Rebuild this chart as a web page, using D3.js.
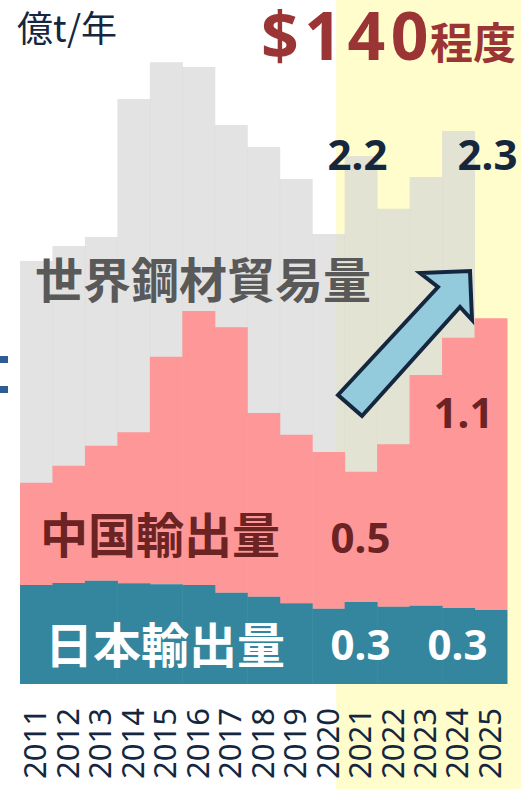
<!DOCTYPE html>
<html>
<head>
<meta charset="utf-8">
<script src="https://cdn.jsdelivr.net/npm/d3@7"></script>
<style>
html,body{margin:0;padding:0;background:#fff;}
svg{display:block;}
</style>
</head>
<body>
<svg id="chart" width="521" height="789"></svg>
<script>
// ---- data (億t/年) ----
const years = ["2011","2012","2013","2014","2015","2016","2017","2018","2019","2020","2021","2022","2023","2024","2025"];
const worldTrade = [1.692,1.752,1.788,2.340,2.487,2.468,2.236,2.148,2.020,1.800,2.112,1.901,2.028,2.212,null];
const chinaExport = [0.409,0.469,0.540,0.604,0.910,1.096,1.062,0.735,0.674,0.627,0.521,0.650,0.923,1.081,1.167];
const japanExport = [0.396,0.404,0.413,0.403,0.399,0.396,0.365,0.349,0.323,0.301,0.328,0.309,0.313,0.304,0.296];
const forecastFrom = "2021";
const unitLabel = "億t/年";
const priceMain = "$140";
const priceSuffix = "程度";
const seriesNames = {world:"世界鋼材貿易量", china:"中国輸出量", japan:"日本輸出量"};
const valueLabels = [
  {series:"world", year:"2021", text:"2.2"},
  {series:"world", year:"2024", text:"2.3"},
  {series:"china", year:"2021", text:"0.5"},
  {series:"china", year:"2024", text:"1.1"},
  {series:"japan", year:"2021", text:"0.3"},
  {series:"japan", year:"2024", text:"0.3"}
];

const svg = d3.select("#chart");
const W = 521, H = 789;
const x = d3.scaleBand().domain(years).range([20, 507]).padding(0);
const y = d3.scaleLinear().domain([0, 2.6]).range([684, 34]);

const navy = "#14273f";
const JP = "'Noto Sans CJK JP','Noto Sans',sans-serif";
const NUM = "'Noto Sans','Open Sans',sans-serif";

// forecast background (starts partway through the 2020 bar)
const fx = x(forecastFrom) - x.bandwidth() * 0.26;
svg.append("rect").attr("x", fx).attr("y", 0).attr("width", W - fx).attr("height", H).attr("fill", "#fffdcc");

const rows = years.map((yr, i) => ({year: yr, world: worldTrade[i], china: chinaExport[i], japan: japanExport[i]}));

// world trade (semi-transparent gray)
svg.append("g").selectAll("rect").data(rows.filter(d => d.world != null)).join("rect")
  .attr("x", d => x(d.year)).attr("width", x.bandwidth() + 0.5)
  .attr("y", d => y(d.world)).attr("height", d => y(0) - y(d.world))
  .attr("fill", "rgb(214,214,214)").attr("fill-opacity", 0.69);

// China exports stacked on Japan
svg.append("g").selectAll("rect").data(rows).join("rect")
  .attr("x", d => x(d.year)).attr("width", x.bandwidth() + 0.5)
  .attr("y", d => y(d.japan + d.china)).attr("height", d => y(d.japan) - y(d.japan + d.china))
  .attr("fill", "#fe9797");

// Japan exports
svg.append("g").selectAll("rect").data(rows).join("rect")
  .attr("x", d => x(d.year)).attr("width", x.bandwidth() + 0.5)
  .attr("y", d => y(d.japan)).attr("height", d => y(0) - y(d.japan))
  .attr("fill", "#33869e");

// year axis labels (rotated)
svg.append("g").selectAll("text").data(years).join("text")
  .attr("transform", d => `translate(${x(d) + x.bandwidth()/2 - 1},708) rotate(-90)`)
  .attr("text-anchor", "end").attr("dy", "0.36em")
  .attr("font-family", NUM).attr("font-size", 31).attr("fill", navy)
  .text(d => d);

// unit
svg.append("text").attr("x", 17).attr("y", 42).attr("font-family", JP).attr("font-size", 36)
  .attr("fill", navy).text(unitLabel);

// price
svg.append("text").attr("x", 261).attr("y", 60).attr("fill", "#9b3535").attr("font-weight", 700)
  .attr("font-family", NUM).attr("font-size", 66).attr("letter-spacing", 5.5).text(priceMain);
svg.append("text").attr("x", 430).attr("y", 59).attr("fill", "#9b3535").attr("font-weight", 700)
  .attr("font-family", JP).attr("font-size", 43).text(priceSuffix);

// left cut-off marks
svg.append("rect").attr("x", 0).attr("y", 356).attr("width", 8).attr("height", 7).attr("fill", "#2e5c94");
svg.append("rect").attr("x", 0).attr("y", 386).attr("width", 8).attr("height", 7).attr("fill", "#2e5c94");

// series names
svg.append("text").attr("x", 35).attr("y", 298).attr("font-family", JP).attr("font-weight", 700)
  .attr("font-size", 48).attr("fill", "#595959").text(seriesNames.world);
svg.append("text").attr("x", 40).attr("y", 553).attr("font-family", JP).attr("font-weight", 700)
  .attr("font-size", 48).attr("fill", "#6b2323").text(seriesNames.china);
svg.append("text").attr("x", 45).attr("y", 663).attr("font-family", JP).attr("font-weight", 700)
  .attr("font-size", 48).attr("fill", "#ffffff").text(seriesNames.japan);

// value labels
const labelStyle = {
  world: {color: navy, cx: {"2021": 357.5, "2024": 487.5}, y: 170},
  china: {color: "#6b2323", cx: {"2021": 360.5, "2024": 463.5}, y: {"2021": 553, "2024": 428}},
  japan: {color: "#ffffff", cx: {"2021": 360.5, "2024": 457.5}, y: 660}
};
svg.append("g").selectAll("text").data(valueLabels).join("text")
  .attr("x", d => labelStyle[d.series].cx[d.year])
  .attr("y", d => { const v = labelStyle[d.series].y; return typeof v === "object" ? v[d.year] : v; })
  .attr("text-anchor", "middle").attr("font-family", NUM).attr("font-weight", 700)
  .attr("font-size", 42).attr("fill", d => labelStyle[d.series].color)
  .text(d => d.text);

// arrow
const arrowPts = [[338,395],[438,287],[420,273],[470,271],[472,320],[460,307],[362,416]];
svg.append("path").attr("d", d3.line()(arrowPts) + "Z")
  .attr("fill", "#93cbdc").attr("stroke", navy).attr("stroke-width", 4).attr("stroke-linejoin", "miter");
</script>
</body>
</html>
